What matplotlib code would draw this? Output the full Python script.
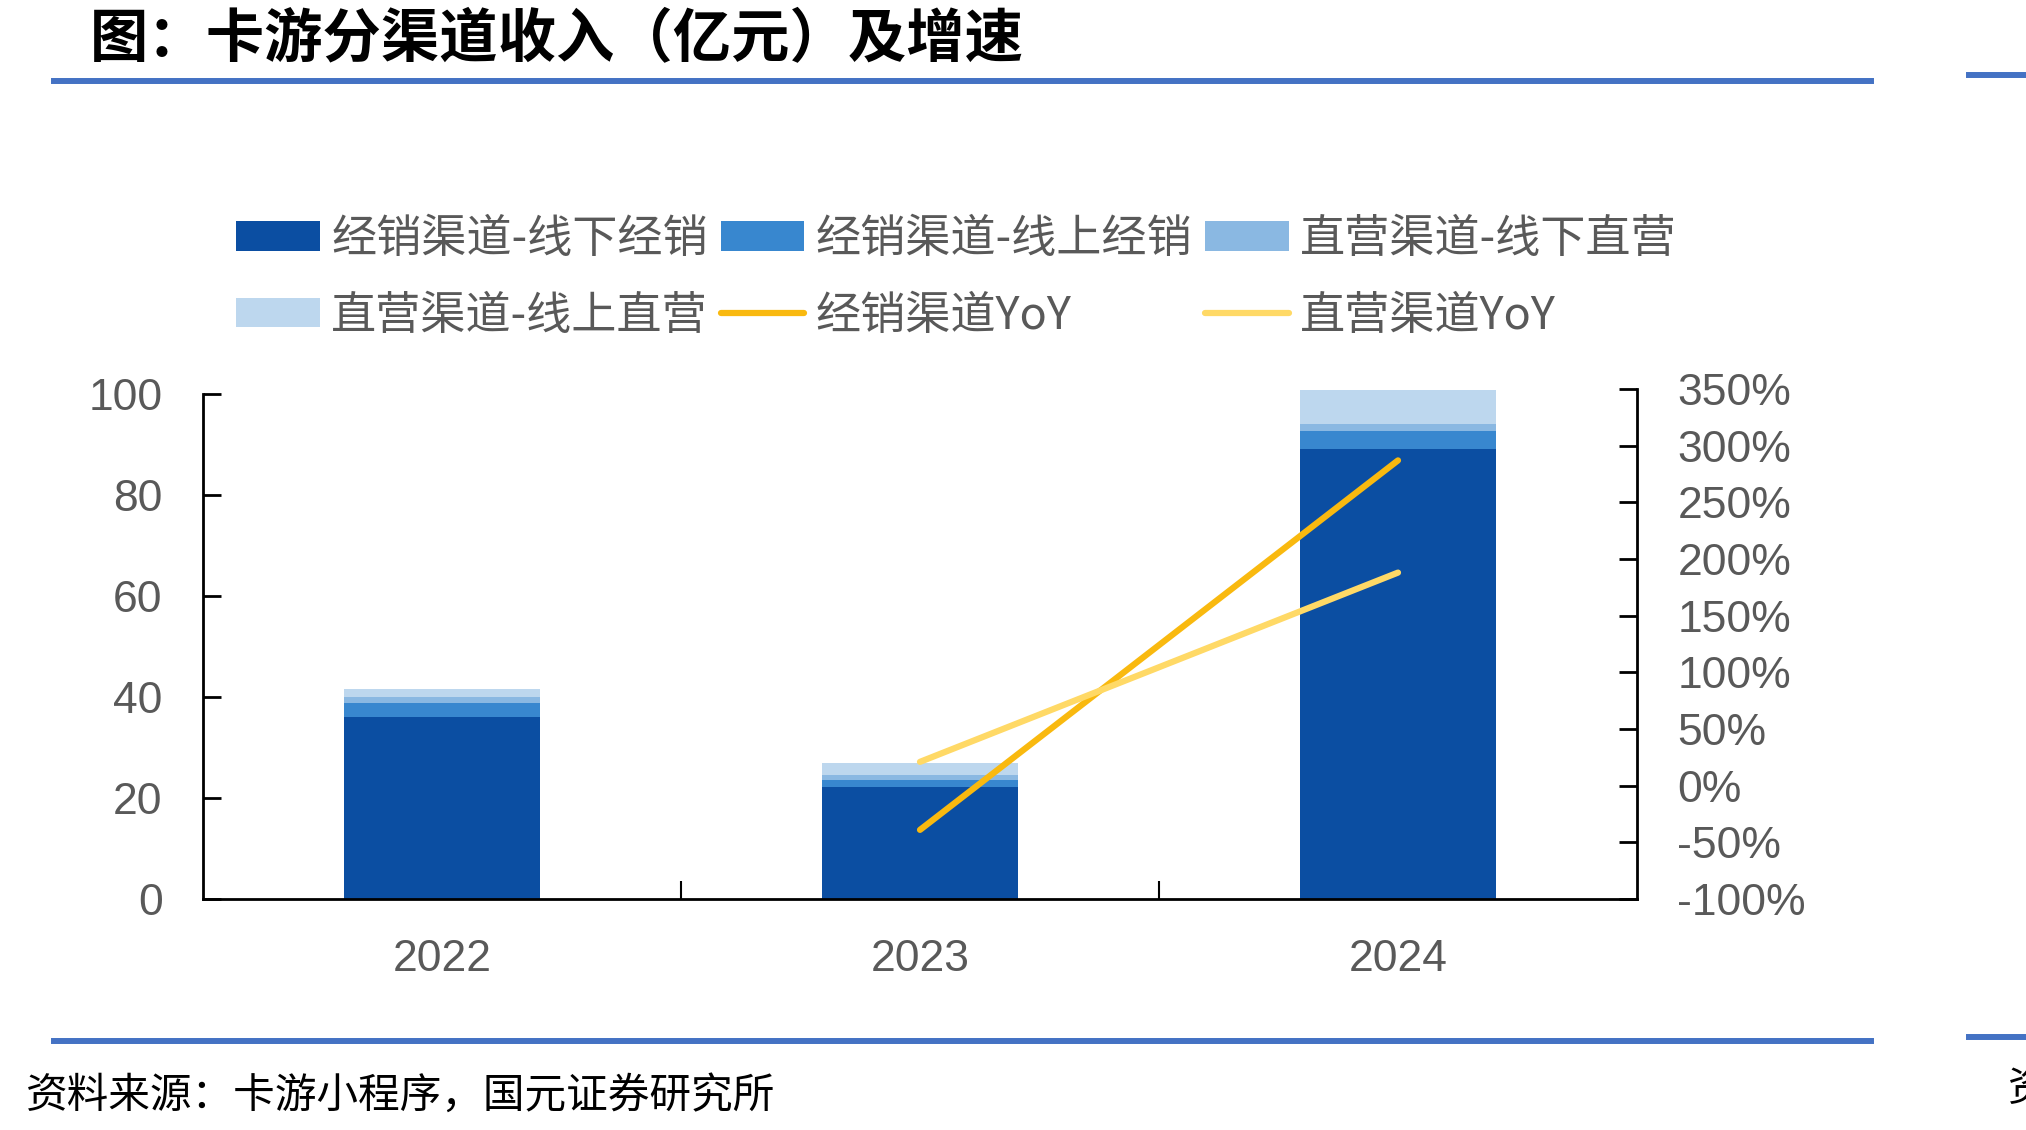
import numpy as np
import matplotlib.pyplot as plt
from matplotlib.patches import Patch
from matplotlib.lines import Line2D
from matplotlib.ticker import FuncFormatter

plt.rcParams['font.family'] = ['Liberation Sans', 'Noto Sans CJK SC', 'DejaVu Sans']

years = ['2022', '2023', '2024']
dist_offline = [36.0, 22.2, 89.1]
dist_online = [2.8, 1.4, 3.6]
direct_offline = [1.2, 1.0, 1.4]
direct_online = [1.6, 2.3, 6.7]
dist_yoy = [np.nan, -0.39, 2.87]
direct_yoy = [np.nan, 0.21, 1.88]

labels = ['经销渠道-线下经销', '经销渠道-线上经销', '直营渠道-线下直营',
          '直营渠道-线上直营', '经销渠道YoY', '直营渠道YoY']
bar_colors = ['#0B4EA2', '#3887CF', '#8AB8E2', '#BDD7EE']
line_colors = ['#F9B90F', '#FFD966']
grey = '#595959'
rule_blue = '#4472C4'

W, H = 2026, 1130
fig = plt.figure(figsize=(W / 100, H / 100), dpi=100)
ax = fig.add_axes([203 / W, 1 - 899 / H, (1637 - 203) / W, (899 - 389) / H])

x = np.arange(len(years))
bottom = np.zeros(len(years))
handles = []
for vals, c, lab in zip([dist_offline, dist_online, direct_offline, direct_online], bar_colors, labels[:4]):
    ax.bar(x, vals, width=0.41, bottom=bottom, color=c, zorder=2)
    bottom += np.array(vals)
    handles.append(Patch(facecolor=c, label=lab))

ax.set_xlim(-0.5, 2.5)
ax.set_ylim(0, 101)
ax.set_yticks(np.arange(0, 101, 20))
ax.spines['left'].set_bounds(0, 100)
ax.set_xticks(x)
ax.set_xticklabels(years)
ax.set_xticks([0.5, 1.5], minor=True)
ax.tick_params(axis='x', which='major', length=0, pad=29, labelsize=32, labelcolor=grey)
ax.tick_params(axis='x', which='minor', direction='in', length=13, width=1.5)
ax.tick_params(axis='y', direction='in', length=13, width=2, pad=29, labelsize=32, labelcolor=grey)
for s in ['top', 'right']:
    ax.spines[s].set_visible(False)
for s in ['left', 'bottom']:
    ax.spines[s].set_linewidth(2)

ax2 = ax.twinx()
ax2.set_ylim(-1, 3.5)
ax2.set_yticks(np.arange(-1, 3.51, 0.5))
ax2.yaxis.set_major_formatter(FuncFormatter(lambda v, p: f'{v * 100:.0f}%'))
ax2.tick_params(axis='y', direction='in', length=13, width=2, pad=29, labelsize=32, labelcolor=grey)
for s in ['top', 'left', 'bottom']:
    ax2.spines[s].set_visible(False)
ax2.spines['right'].set_linewidth(2)

for vals, c, lab in zip([dist_yoy, direct_yoy], line_colors, labels[4:]):
    ax2.plot(x, vals, color=c, lw=4.5, solid_capstyle='round', zorder=3)
    handles.append(Line2D([], [], color=c, lw=4.5, solid_capstyle='round', label=lab))

# legend is filled column by column, so reorder to read row by row
order = [0, 3, 1, 4, 2, 5]
leg = fig.legend([handles[i] for i in order], [labels[i] for i in order],
                 ncol=3, loc='upper left', bbox_to_anchor=(236 / W, 1 - 216 / H),
                 frameon=False, prop={'family': ['Noto Sans CJK SC', 'Liberation Sans'], 'size': 32.5},
                 handlelength=1.85, handleheight=0.62, handletextpad=0.26,
                 columnspacing=0.28, labelspacing=0.68, borderaxespad=0, borderpad=0)
for t in leg.get_texts():
    t.set_color(grey)

fig.text(90 / W, 1 - 39 / H, '图：卡游分渠道收入（亿元）及增速', fontsize=42, fontweight='bold',
         family=['Noto Sans CJK SC', 'DejaVu Sans'], va='center', ha='left', color='black')
fig.text(26 / W, 1 - 1096 / H, '资料来源：卡游小程序，国元证券研究所', fontsize=30,
         family=['Noto Sans CJK SC', 'DejaVu Sans'], va='center', ha='left', color='black')
fig.text(2008 / W, 1 - 1090 / H, '资料来源', fontsize=30,
         family=['Noto Sans CJK SC', 'DejaVu Sans'], va='center', ha='left', color='black')

for y, x0, x1 in [(81, 54, 1871), (75, 1969, 2026), (1041, 54, 1871), (1037, 1969, 2026)]:
    fig.add_artist(Line2D([x0 / W, x1 / W], [1 - y / H, 1 - y / H], color=rule_blue, lw=4.3,
                          transform=fig.transFigure))

fig.savefig('out.png', dpi=100)
